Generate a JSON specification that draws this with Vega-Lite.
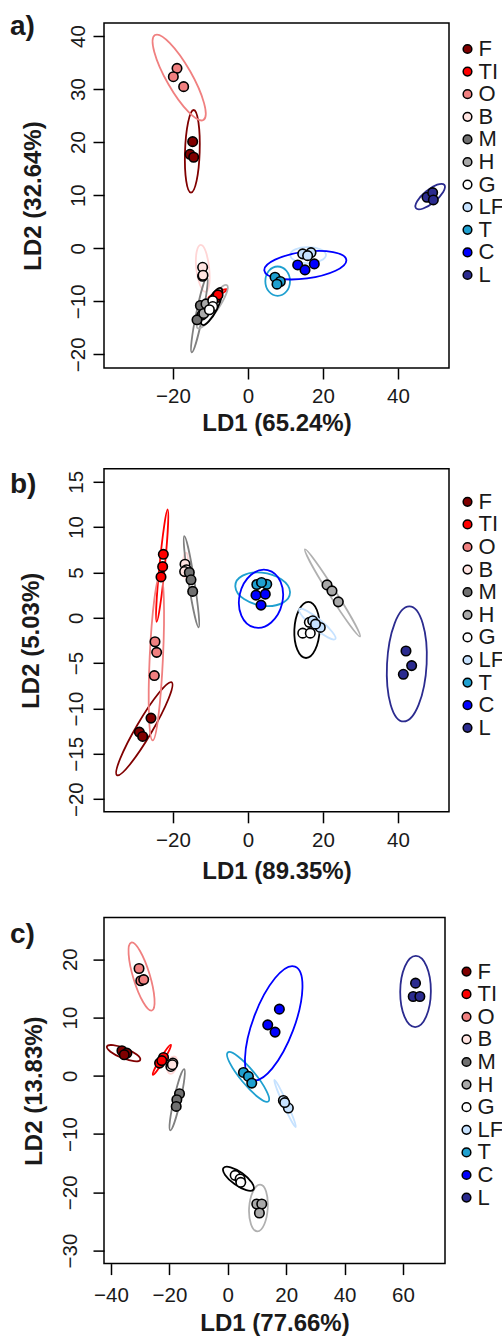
{
  "$schema": "https://vega.github.io/schema/vega-lite/v6.json",
  "padding": {"left": 9, "top": 11, "right": 0, "bottom": 0},
  "spacing": 31.8,
  "bounds": "full",
  "config": {
    "font": "Liberation Sans",
    "view": {"stroke": "black", "strokeWidth": 1.5},
    "axis": {"domain": false, "grid": false, "tickSize": 11, "tickWidth": 1.5, "tickColor": "black", "labelFontSize": 20.5, "labelColor": "#1a1a1a", "labelFlush": false, "labelOverlap": false, "titleFontSize": 24, "titleFontWeight": "bold", "titleColor": "#1a1a1a"},
    "axisY": {"labelAngle": -90, "labelAlign": "center", "labelBaseline": "alphabetic"},
    "legend": {"orient": "none", "labelFontSize": 22, "labelColor": "#1a1a1a", "symbolType": "circle", "symbolSize": 75, "symbolStrokeColor": "black", "symbolStrokeWidth": 1.5, "symbolOpacity": 1, "rowPadding": 0.6, "labelOffset": 0, "padding": 0}
  },
  "datasets": {
    "pa": [
      {"g":"F","x":-14.76,"y":20.09},{"g":"F","x":-15.47,"y":17.7},{"g":"F","x":-14.49,"y":17.14},
      {"g":"TI","x":-8.3,"y":-9.0},{"g":"TI","x":-8.6,"y":-9.4},{"g":"TI","x":-8.0,"y":-8.8},
      {"g":"O","x":-18.93,"y":33.9},{"g":"O","x":-19.91,"y":32.33},{"g":"O","x":-17.16,"y":30.45},
      {"g":"B","x":-12.1,"y":-3.6},{"g":"B","x":-12.1,"y":-5.3},{"g":"B","x":-12.0,"y":-5.1},
      {"g":"M","x":-12.7,"y":-10.8},{"g":"M","x":-12.3,"y":-12.6},{"g":"M","x":-13.6,"y":-13.5},
      {"g":"H","x":-10.7,"y":-11.6},{"g":"H","x":-11.2,"y":-10.5},{"g":"H","x":-11.8,"y":-12.3},
      {"g":"G","x":-9.4,"y":-9.9},{"g":"G","x":-9.4,"y":-11.0},{"g":"G","x":-10.3,"y":-11.6},
      {"g":"LF","x":14.59,"y":-1.07},{"g":"LF","x":16.8,"y":-0.83},{"g":"LF","x":15.9,"y":-1.4},
      {"g":"T","x":7.2,"y":-5.46},{"g":"T","x":8.62,"y":-6.28},{"g":"T","x":7.73,"y":-6.78},
      {"g":"C","x":13.25,"y":-3.15},{"g":"C","x":15.2,"y":-4.09},{"g":"C","x":17.68,"y":-2.96},
      {"g":"L","x":47.73,"y":9.6},{"g":"L","x":49.24,"y":10.48},{"g":"L","x":49.42,"y":9.1}
    ],
    "ea": [
      {"g":"F","k":0,"x":-14.49,"y":26.05},{"g":"F","k":1,"x":-12.89,"y":18.14},{"g":"F","k":2,"x":-15.2,"y":10.48},{"g":"F","k":3,"x":-16.8,"y":18.14},
      {"g":"TI","k":0,"x":-5.6,"y":-7.78},{"g":"TI","k":1,"x":-7.9,"y":-8.88},{"g":"TI","k":2,"x":-10.58,"y":-9.42},{"g":"TI","k":3,"x":-8.28,"y":-8.32},
      {"g":"O","k":0,"x":-11.91,"y":24.17},{"g":"O","k":1,"x":-21.29,"y":30.99},{"g":"O","k":2,"x":-24.8,"y":40.18},{"g":"O","k":3,"x":-15.42,"y":33.35},
      {"g":"B","k":0,"x":-12.59,"y":0.62},{"g":"B","k":1,"x":-10.35,"y":-3.8},{"g":"B","k":2,"x":-11.33,"y":-8.23},{"g":"B","k":3,"x":-13.81,"y":-3.8},
      {"g":"M","k":0,"x":-10.93,"y":-5.46},{"g":"M","k":1,"x":-12.11,"y":-12.68},{"g":"M","k":2,"x":-15.02,"y":-19.65},{"g":"M","k":3,"x":-13.85,"y":-12.43},
      {"g":"H","k":0,"x":-5.6,"y":-6.97},{"g":"H","k":1,"x":-8.19,"y":-11.65},{"g":"H","k":2,"x":-13.42,"y":-15.07},{"g":"H","k":3,"x":-10.84,"y":-10.38},
      {"g":"G","k":0,"x":-7.2,"y":-7.53},{"g":"G","k":1,"x":-8.27,"y":-11.5},{"g":"G","k":2,"x":-12.18,"y":-14.44},{"g":"G","k":3,"x":-11.11,"y":-10.47},
      {"g":"LF","k":0,"x":11.29,"y":-1.26},{"g":"LF","k":1,"x":15.91,"y":0.19},{"g":"LF","k":2,"x":20.8,"y":-1.26},{"g":"LF","k":3,"x":15.91,"y":-2.82},
      {"g":"T","k":0,"x":7.91,"y":-3.45},{"g":"T","k":1,"x":11.2,"y":-6.21},{"g":"T","k":2,"x":7.91,"y":-8.98},{"g":"T","k":3,"x":4.62,"y":-6.21},
      {"g":"C","k":0,"x":26.22,"y":-2.2},{"g":"C","k":1,"x":15.75,"y":-5.69},{"g":"C","k":2,"x":4.36,"y":-4.21},{"g":"C","k":3,"x":14.83,"y":-0.71},
      {"g":"L","k":0,"x":52.36,"y":11.93},{"g":"L","k":1,"x":49.71,"y":8.76},{"g":"L","k":2,"x":44.8,"y":7.53},{"g":"L","k":3,"x":47.45,"y":10.7}
    ],
    "pb": [
      {"g":"F","x":-25.87,"y":-11.06},{"g":"F","x":-28.98,"y":-12.6},{"g":"F","x":-28.09,"y":-13.08},
      {"g":"TI","x":-22.58,"y":7.0},{"g":"TI","x":-22.76,"y":5.64},{"g":"TI","x":-23.2,"y":4.51},
      {"g":"O","x":-24.8,"y":-2.64},{"g":"O","x":-24.36,"y":-3.81},{"g":"O","x":-24.98,"y":-6.37},
      {"g":"B","x":-16.8,"y":5.91},{"g":"B","x":-16.4,"y":5.3},{"g":"B","x":-16.9,"y":5.1},
      {"g":"M","x":-15.65,"y":5.0},{"g":"M","x":-15.2,"y":4.19},{"g":"M","x":-14.75,"y":2.91},
      {"g":"H","x":21.07,"y":3.63},{"g":"H","x":22.4,"y":2.97},{"g":"H","x":24.09,"y":1.76},
      {"g":"G","x":14.59,"y":-1.69},{"g":"G","x":16.61,"y":-1.69},{"g":"G","x":16.35,"y":-0.5},
      {"g":"LF","x":17.25,"y":-0.33},{"g":"LF","x":19.28,"y":-1.06},{"g":"LF","x":18.0,"y":-0.7},
      {"g":"T","x":2.35,"y":3.67},{"g":"T","x":5.0,"y":3.7},{"g":"T","x":3.6,"y":3.9},
      {"g":"C","x":2.13,"y":2.5},{"g":"C","x":4.61,"y":2.61},{"g":"C","x":3.47,"y":1.4},
      {"g":"L","x":42.13,"y":-3.66},{"g":"L","x":43.64,"y":-5.27},{"g":"L","x":41.42,"y":-6.23}
    ],
    "eb": [
      {"g":"F","k":0,"x":-20.36,"y":-7.11},{"g":"F","k":1,"x":-25.8,"y":-12.68},{"g":"F","k":2,"x":-34.93,"y":-17.36},{"g":"F","k":3,"x":-29.48,"y":-11.79},
      {"g":"TI","k":0,"x":-21.42,"y":11.94},{"g":"TI","k":1,"x":-22.18,"y":5.68},{"g":"TI","k":2,"x":-24.36,"y":-0.44},{"g":"TI","k":3,"x":-23.6,"y":5.75},
      {"g":"O","k":0,"x":-23.38,"y":4.8},{"g":"O","k":1,"x":-22.67,"y":-4.36},{"g":"O","k":2,"x":-25.42,"y":-13.52},{"g":"O","k":3,"x":-26.22,"y":-4.36},
      {"g":"B","k":0,"x":-16.53,"y":7.18},{"g":"B","k":1,"x":-16.0,"y":5.79},{"g":"B","k":2,"x":-16.89,"y":4.43},{"g":"B","k":3,"x":-17.42,"y":5.79},
      {"g":"M","k":0,"x":-16.98,"y":9.01},{"g":"M","k":1,"x":-14.28,"y":4.0},{"g":"M","k":2,"x":-13.16,"y":-1.06},{"g":"M","k":3,"x":-15.86,"y":3.9},
      {"g":"H","k":0,"x":29.87,"y":-2.05},{"g":"H","k":1,"x":23.29,"y":2.95},{"g":"H","k":2,"x":15.2,"y":7.55},{"g":"H","k":3,"x":21.78,"y":2.5},
      {"g":"G","k":0,"x":16.09,"y":1.76},{"g":"G","k":1,"x":19.11,"y":-1.32},{"g":"G","k":2,"x":15.47,"y":-4.43},{"g":"G","k":3,"x":12.36,"y":-1.32},
      {"g":"LF","k":0,"x":23.29,"y":-2.34},{"g":"LF","k":1,"x":19.34,"y":-0.27},{"g":"LF","k":2,"x":13.69,"y":0.95},{"g":"LF","k":3,"x":17.64,"y":-1.12},
      {"g":"T","k":0,"x":11.2,"y":2.86},{"g":"T","k":1,"x":3.64,"y":4.98},{"g":"T","k":2,"x":-3.38,"y":3.44},{"g":"T","k":3,"x":4.18,"y":1.32},
      {"g":"C","k":0,"x":5.24,"y":5.27},{"g":"C","k":1,"x":9.09,"y":1.57},{"g":"C","k":2,"x":1.69,"y":-1.06},{"g":"C","k":3,"x":-2.16,"y":2.64},
      {"g":"L","k":0,"x":43.02,"y":1.25},{"g":"L","k":1,"x":47.64,"y":-5.09},{"g":"L","k":2,"x":41.51,"y":-11.43},{"g":"L","k":3,"x":37.07,"y":-5.09}
    ],
    "pc": [
      {"g":"F","x":-36.26,"y":4.29},{"g":"F","x":-34.55,"y":3.89},{"g":"F","x":-35.46,"y":3.6},
      {"g":"TI","x":-22.0,"y":3.14},{"g":"TI","x":-23.37,"y":2.17},{"g":"TI","x":-22.6,"y":2.6},
      {"g":"O","x":-30.4,"y":18.4},{"g":"O","x":-29.8,"y":16.3},{"g":"O","x":-28.8,"y":16.5},
      {"g":"B","x":-18.81,"y":2.17},{"g":"B","x":-19.5,"y":1.6},{"g":"B","x":-19.0,"y":1.9},
      {"g":"M","x":-16.53,"y":-3.09},{"g":"M","x":-17.45,"y":-4.11},{"g":"M","x":-17.67,"y":-5.26},
      {"g":"H","x":9.92,"y":-22.0},{"g":"H","x":11.63,"y":-22.0},{"g":"H","x":10.83,"y":-23.54},
      {"g":"G","x":2.51,"y":-17.09},{"g":"G","x":4.22,"y":-17.71},{"g":"G","x":4.45,"y":-18.29},
      {"g":"LF","x":19.04,"y":-4.23},{"g":"LF","x":20.75,"y":-5.54},{"g":"LF","x":19.5,"y":-4.6},
      {"g":"T","x":5.36,"y":0.57},{"g":"T","x":7.07,"y":-0.11},{"g":"T","x":8.21,"y":-1.26},
      {"g":"C","x":17.67,"y":11.43},{"g":"C","x":13.68,"y":8.74},{"g":"C","x":16.19,"y":7.49},
      {"g":"L","x":64.31,"y":15.89},{"g":"L","x":63.51,"y":13.6},{"g":"L","x":65.79,"y":13.6}
    ],
    "ec": [
      {"g":"F","k":0,"x":-29.99,"y":2.74},{"g":"F","k":1,"x":-36.33,"y":3.09},{"g":"F","k":2,"x":-41.39,"y":5.03},{"g":"F","k":3,"x":-35.05,"y":4.68},
      {"g":"TI","k":0,"x":-19.5,"y":5.31},{"g":"TI","k":1,"x":-22.0,"y":2.57},{"g":"TI","k":2,"x":-25.66,"y":0.17},{"g":"TI","k":3,"x":-23.16,"y":2.92},
      {"g":"O","k":0,"x":-26.0,"y":11.2},{"g":"O","k":1,"x":-26.81,"y":17.45},{"g":"O","k":2,"x":-33.07,"y":22.86},{"g":"O","k":3,"x":-32.26,"y":16.61},
      {"g":"B","k":0,"x":-18.47,"y":3.31},{"g":"B","k":1,"x":-17.45,"y":1.89},{"g":"B","k":2,"x":-19.5,"y":0.34},{"g":"B","k":3,"x":-20.87,"y":1.89},
      {"g":"M","k":0,"x":-14.94,"y":1.14},{"g":"M","k":1,"x":-16.23,"y":-4.24},{"g":"M","k":2,"x":-19.73,"y":-9.37},{"g":"M","k":3,"x":-18.44,"y":-3.99},
      {"g":"H","k":0,"x":11.06,"y":-18.69},{"g":"H","k":1,"x":13.68,"y":-22.69},{"g":"H","k":2,"x":10.15,"y":-26.69},{"g":"H","k":3,"x":7.3,"y":-22.69},
      {"g":"G","k":0,"x":8.78,"y":-19.54},{"g":"G","k":1,"x":4.98,"y":-16.73},{"g":"G","k":2,"x":-1.48,"y":-15.83},{"g":"G","k":3,"x":2.31,"y":-18.58},
      {"g":"LF","k":0,"x":23.26,"y":-8.8},{"g":"LF","k":1,"x":20.24,"y":-4.6},{"g":"LF","k":2,"x":15.96,"y":-0.69},{"g":"LF","k":3,"x":18.99,"y":-4.89},
      {"g":"T","k":0,"x":13.91,"y":-4.4},{"g":"T","k":1,"x":8.88,"y":0.63},{"g":"T","k":2,"x":0.0,"y":4.0},{"g":"T","k":3,"x":5.03,"y":-0.98},
      {"g":"C","k":0,"x":23.03,"y":18.74},{"g":"C","k":1,"x":22.35,"y":7.78},{"g":"C","k":2,"x":8.44,"y":-0.69},{"g":"C","k":3,"x":9.12,"y":10.27},
      {"g":"L","k":0,"x":64.42,"y":20.57},{"g":"L","k":1,"x":69.56,"y":14.46},{"g":"L","k":2,"x":64.2,"y":8.34},{"g":"L","k":3,"x":59.06,"y":14.46}
    ]
  },
  "resolve": {"scale": {"fill": "independent", "stroke": "independent", "x": "independent", "y": "independent"}, "legend": {"fill": "independent", "stroke": "independent"}},
  "vconcat": [
    {
      "width": 345, "height": 345,
      "title": {"text": "a)", "anchor": "start", "frame": "group", "orient": "top", "offset": 0, "dx": -94, "dy": 39.5, "baseline": "alphabetic", "fontSize": 28, "fontWeight": "bold", "color": "#1a1a1a"},
      "encoding": {
        "x": {"field": "x", "type": "quantitative", "scale": {"domain": [-38.4, 53.6], "nice": false, "zero": false}, "axis": {"values": [-20, 0, 20, 40], "title": "LD1 (65.24%)", "labelPadding": 7.5, "titlePadding": 4}},
        "y": {"field": "y", "type": "quantitative", "scale": {"domain": [-22.58, 42.45], "nice": false, "zero": false}, "axis": {"values": [-20, -10, 0, 10, 20, 30, 40], "title": "LD2 (32.64%)", "labelPadding": 8.7, "titlePadding": 23}}
      },
      "layer": [
        {"data": {"name": "ea"}, "mark": {"type": "line", "interpolate": "cardinal-closed", "tension": -0.657, "strokeWidth": 1.8, "clip": true},
         "encoding": {"detail": {"field": "g"}, "order": {"field": "k", "type": "quantitative"},
           "stroke": {"field": "g", "type": "nominal", "scale": {"domain": ["B","C","F","G","H","L","LF","M","O","T","TI"], "range": ["#ffd6d6","#0000ff","#800000","#000000","#b0b0b0","#2b2b8f","#c6e2ff","#808080","#f08080","#1fa0d0","#ff0000"]}, "legend": null}}},
        {"data": {"name": "pa"}, "mark": {"type": "circle", "size": 90, "stroke": "black", "strokeWidth": 1.6, "opacity": 1},
         "encoding": {"fill": {"field": "g", "type": "nominal", "scale": {"domain": ["F","TI","O","B","M","H","G","LF","T","C","L"], "range": ["#800000","#ff0000","#f08080","#ffe4e1","#707070","#a9a9a9","#ffffff","#c6e2ff","#1fa0d0","#0000ff","#2b2b8f"]}, "legend": {"title": null, "orient": "none", "legendX": 352.5, "legendY": 15}}}}
      ]
    },
    {
      "width": 345, "height": 343,
      "title": {"text": "b)", "anchor": "start", "frame": "group", "orient": "top", "offset": 0, "dx": -94, "dy": 52, "baseline": "alphabetic", "fontSize": 28, "fontWeight": "bold", "color": "#1a1a1a"},
      "encoding": {
        "x": {"field": "x", "type": "quantitative", "scale": {"domain": [-38.4, 53.6], "nice": false, "zero": false}, "axis": {"values": [-20, 0, 20, 40], "title": "LD1 (89.35%)", "labelPadding": 7.5, "titlePadding": 9}},
        "y": {"field": "y", "type": "quantitative", "scale": {"domain": [-21.39, 16.43], "nice": false, "zero": false}, "axis": {"values": [-20, -15, -10, -5, 0, 5, 10, 15], "title": "LD2 (5.03%)", "labelPadding": 10.3, "titlePadding": 23.5}}
      },
      "layer": [
        {"data": {"name": "eb"}, "mark": {"type": "line", "interpolate": "cardinal-closed", "tension": -0.657, "strokeWidth": 1.8, "clip": true},
         "encoding": {"detail": {"field": "g"}, "order": {"field": "k", "type": "quantitative"},
           "stroke": {"field": "g", "type": "nominal", "scale": {"domain": ["B","C","F","G","H","L","LF","M","O","T","TI"], "range": ["#ffd6d6","#0000ff","#800000","#000000","#b0b0b0","#2b2b8f","#c6e2ff","#808080","#f08080","#1fa0d0","#ff0000"]}, "legend": null}}},
        {"data": {"name": "pb"}, "mark": {"type": "circle", "size": 90, "stroke": "black", "strokeWidth": 1.6, "opacity": 1},
         "encoding": {"fill": {"field": "g", "type": "nominal", "scale": {"domain": ["F","TI","O","B","M","H","G","LF","T","C","L"], "range": ["#800000","#ff0000","#f08080","#ffe4e1","#707070","#a9a9a9","#ffffff","#c6e2ff","#1fa0d0","#0000ff","#2b2b8f"]}, "legend": {"title": null, "orient": "none", "legendX": 352.5, "legendY": 22}}}}
      ]
    },
    {
      "width": 341, "height": 346,
      "title": {"text": "c)", "anchor": "start", "frame": "group", "orient": "top", "offset": 0, "dx": -94, "dy": 53.3, "baseline": "alphabetic", "fontSize": 28, "fontWeight": "bold", "color": "#1a1a1a"},
      "encoding": {
        "x": {"field": "x", "type": "quantitative", "scale": {"domain": [-42.4, 74.4], "nice": false, "zero": false}, "axis": {"values": [-40, -20, 0, 20, 40, 60], "title": "LD1 (77.66%)", "labelPadding": 10.5, "titlePadding": 6}},
        "y": {"field": "y", "type": "quantitative", "scale": {"domain": [-32.23, 27.14], "nice": false, "zero": false}, "axis": {"values": [-30, -20, -10, 0, 10, 20], "title": "LD2 (13.83%)", "labelPadding": 17, "titlePadding": 14}}
      },
      "layer": [
        {"data": {"name": "ec"}, "mark": {"type": "line", "interpolate": "cardinal-closed", "tension": -0.657, "strokeWidth": 1.8, "clip": true},
         "encoding": {"detail": {"field": "g"}, "order": {"field": "k", "type": "quantitative"},
           "stroke": {"field": "g", "type": "nominal", "scale": {"domain": ["B","C","F","G","H","L","LF","M","O","T","TI"], "range": ["#ffd6d6","#0000ff","#800000","#000000","#b0b0b0","#2b2b8f","#c6e2ff","#808080","#f08080","#1fa0d0","#ff0000"]}, "legend": null}}},
        {"data": {"name": "pc"}, "mark": {"type": "circle", "size": 90, "stroke": "black", "strokeWidth": 1.6, "opacity": 1},
         "encoding": {"fill": {"field": "g", "type": "nominal", "scale": {"domain": ["F","TI","O","B","M","H","G","LF","T","C","L"], "range": ["#800000","#ff0000","#f08080","#ffe4e1","#707070","#a9a9a9","#ffffff","#c6e2ff","#1fa0d0","#0000ff","#2b2b8f"]}, "legend": {"title": null, "orient": "none", "legendX": 351.5, "legendY": 43}}}}
      ]
    }
  ]
}
